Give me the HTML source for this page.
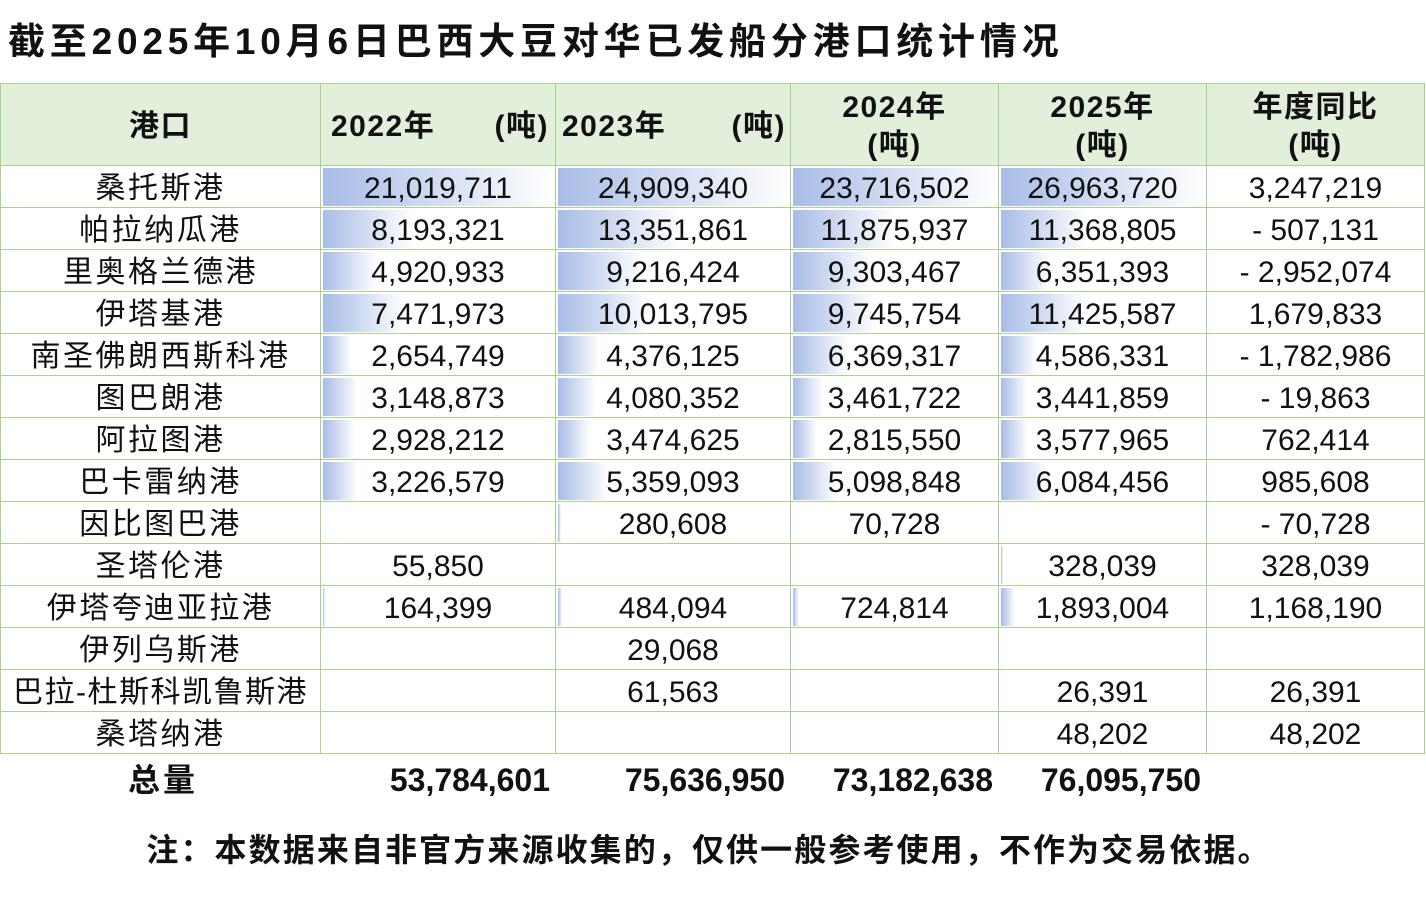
<!DOCTYPE html>
<html><head><meta charset="utf-8"><style>
body{margin:0;background:#fff;width:1426px;height:900px;position:relative;overflow:hidden;font-family:"Liberation Sans","Noto Sans CJK SC",sans-serif;color:#111}
.title{position:absolute;left:8px;top:19px;font-size:37px;letter-spacing:4.8px;font-weight:bold;line-height:46px;white-space:nowrap}
table{position:absolute;left:0;top:83px;border-collapse:collapse;table-layout:fixed}
td{border:1px solid #a9d18e;padding:5px 0 0 0;text-align:center;font-size:30px;height:36px;line-height:36px;white-space:nowrap;background-repeat:no-repeat;background-position:2px 2px;vertical-align:top}
td.p{letter-spacing:2.5px}
tr.h td{background:#e2efda;font-weight:bold;font-size:30px;letter-spacing:1.5px;height:77px;padding:4px 0 0 0;line-height:38px;vertical-align:middle}
td.b{background-image:linear-gradient(to right,#a8bce6,#fff)}
.tot{position:absolute;top:760px;font-size:32px;font-weight:bold;line-height:40px}
.note{position:absolute;top:830px;left:0;width:1418px;text-align:center;font-size:32px;letter-spacing:2.1px;font-weight:bold;line-height:40px}
</style></head><body>
<div class="title">截至2025年10月6日巴西大豆对华已发船分港口统计情况</div>
<table>
<colgroup><col style="width:320px"><col style="width:235px"><col style="width:235px"><col style="width:208px"><col style="width:208px"><col style="width:218px"></colgroup>
<tr class="h"><td>港口</td><td style="text-align:left;padding-left:10px">2022年<span style="float:right;padding-right:6px">(吨)</span></td><td style="text-align:left;padding-left:6px">2023年<span style="float:right;padding-right:4px">(吨)</span></td><td>2024年<br>(吨)</td><td>2025年<br>(吨)</td><td>年度同比<br>(吨)</td></tr>
<tr><td class="p">桑托斯港</td><td class="b" style="background-size:231px 38px">21,019,711</td><td class="b" style="background-size:231px 38px">24,909,340</td><td class="b" style="background-size:204px 38px">23,716,502</td><td class="b" style="background-size:204px 38px">26,963,720</td><td>3,247,219</td></tr>
<tr><td class="p">帕拉纳瓜港</td><td class="b" style="background-size:90px 38px">8,193,321</td><td class="b" style="background-size:124px 38px">13,351,861</td><td class="b" style="background-size:102px 38px">11,875,937</td><td class="b" style="background-size:86px 38px">11,368,805</td><td>- 507,131</td></tr>
<tr><td class="p">里奥格兰德港</td><td class="b" style="background-size:54px 38px">4,920,933</td><td class="b" style="background-size:85px 38px">9,216,424</td><td class="b" style="background-size:80px 38px">9,303,467</td><td class="b" style="background-size:48px 38px">6,351,393</td><td>- 2,952,074</td></tr>
<tr><td class="p">伊塔基港</td><td class="b" style="background-size:82px 38px">7,471,973</td><td class="b" style="background-size:93px 38px">10,013,795</td><td class="b" style="background-size:84px 38px">9,745,754</td><td class="b" style="background-size:86px 38px">11,425,587</td><td>1,679,833</td></tr>
<tr><td class="p">南圣佛朗西斯科港</td><td class="b" style="background-size:29px 38px">2,654,749</td><td class="b" style="background-size:41px 38px">4,376,125</td><td class="b" style="background-size:55px 38px">6,369,317</td><td class="b" style="background-size:35px 38px">4,586,331</td><td>- 1,782,986</td></tr>
<tr><td class="p">图巴朗港</td><td class="b" style="background-size:35px 38px">3,148,873</td><td class="b" style="background-size:38px 38px">4,080,352</td><td class="b" style="background-size:30px 38px">3,461,722</td><td class="b" style="background-size:26px 38px">3,441,859</td><td>- 19,863</td></tr>
<tr><td class="p">阿拉图港</td><td class="b" style="background-size:32px 38px">2,928,212</td><td class="b" style="background-size:32px 38px">3,474,625</td><td class="b" style="background-size:24px 38px">2,815,550</td><td class="b" style="background-size:27px 38px">3,577,965</td><td>762,414</td></tr>
<tr><td class="p">巴卡雷纳港</td><td class="b" style="background-size:35px 38px">3,226,579</td><td class="b" style="background-size:50px 38px">5,359,093</td><td class="b" style="background-size:44px 38px">5,098,848</td><td class="b" style="background-size:46px 38px">6,084,456</td><td>985,608</td></tr>
<tr><td class="p">因比图巴港</td><td></td><td class="b" style="background-size:3px 38px">280,608</td><td>70,728</td><td></td><td>- 70,728</td></tr>
<tr><td class="p">圣塔伦港</td><td>55,850</td><td></td><td></td><td class="b" style="background-size:2px 38px">328,039</td><td>328,039</td></tr>
<tr><td class="p">伊塔夸迪亚拉港</td><td class="b" style="background-size:2px 38px">164,399</td><td class="b" style="background-size:4px 38px">484,094</td><td class="b" style="background-size:6px 38px">724,814</td><td class="b" style="background-size:14px 38px">1,893,004</td><td>1,168,190</td></tr>
<tr><td class="p">伊列乌斯港</td><td></td><td>29,068</td><td></td><td></td><td></td></tr>
<tr><td class="p" style="letter-spacing:1.5px">巴拉-杜斯科凯鲁斯港</td><td></td><td>61,563</td><td></td><td>26,391</td><td>26,391</td></tr>
<tr><td class="p">桑塔纳港</td><td></td><td></td><td></td><td>48,202</td><td>48,202</td></tr>
</table>
<div class="tot" style="left:128px;letter-spacing:3px">总量</div>
<div class="tot" style="left:320px;width:230px;text-align:right">53,784,601</div>
<div class="tot" style="left:555px;width:230px;text-align:right">75,636,950</div>
<div class="tot" style="left:790px;width:203px;text-align:right">73,182,638</div>
<div class="tot" style="left:998px;width:203px;text-align:right">76,095,750</div>
<div class="note">注：本数据来自非官方来源收集的，仅供一般参考使用，不作为交易依据。</div>
</body></html>
